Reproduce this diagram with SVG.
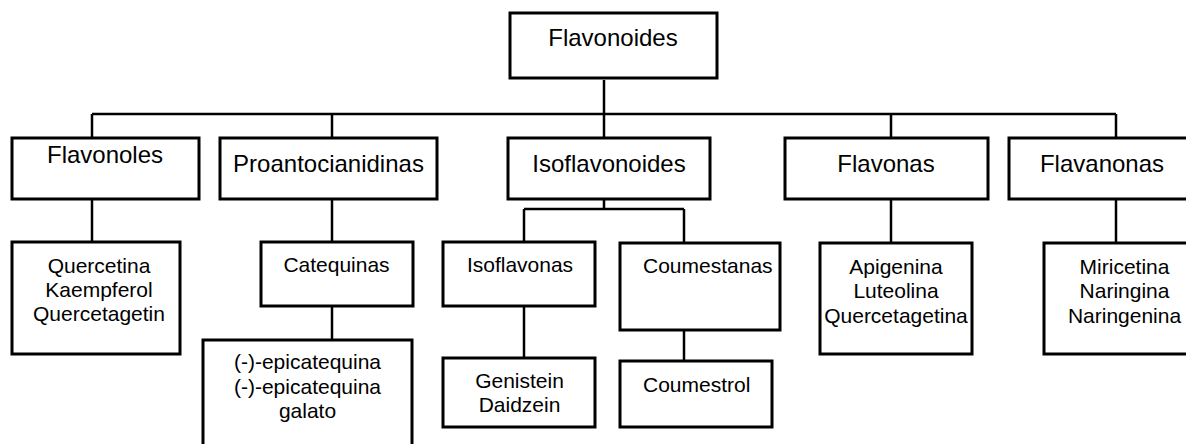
<svg xmlns="http://www.w3.org/2000/svg" width="1186" height="444" viewBox="0 0 1186 444">
<style>
.box{fill:#fff;stroke:#000;stroke-width:3}
.ln{fill:none;stroke:#000;stroke-width:2.5}
.t1{font-family:"Liberation Sans",Arial,sans-serif;font-size:24px;fill:#000;text-anchor:middle}
.t2{font-family:"Liberation Sans",Arial,sans-serif;font-size:21px;fill:#000;text-anchor:middle}
.tl{text-anchor:start}
</style>
<rect width="1186" height="444" fill="#fff"/>
<g id="connectors" class="ln">
<path d="M604 80V138"/>
<path d="M92 114H1116"/>
<path d="M92 114V138M332 114V138M891 114V138M1116 114V138"/>
<path d="M92 199V242"/>
<path d="M332 199V242"/>
<path d="M332 306V340"/>
<path d="M604 199V209M524 209H684M524 209V242M684 209V243"/>
<path d="M524 306V358"/>
<path d="M684 330V361"/>
<path d="M891 199V243"/>
<path d="M1116 199V243"/>
</g>
<g id="flavonoides"><rect class="box" x="510" y="13" width="207" height="65"/><text class="t1" x="613" y="46">Flavonoides</text></g>
<g id="flavonoles"><rect class="box" x="12" y="138" width="187" height="61"/><text class="t1" x="105" y="163">Flavonoles</text></g>
<g id="proantocianidinas"><rect class="box" x="220" y="138" width="217" height="61"/><text class="t1" x="328.5" y="171.5">Proantocianidinas</text></g>
<g id="isoflavonoides"><rect class="box" x="508" y="138" width="202" height="61"/><text class="t1" x="609" y="171.5">Isoflavonoides</text></g>
<g id="flavonas"><rect class="box" x="785" y="138" width="203" height="61"/><text class="t1" x="886" y="171.5">Flavonas</text></g>
<g id="flavanonas"><rect class="box" x="1009" y="138" width="186" height="61"/><text class="t1" x="1102" y="171.5">Flavanonas</text></g>
<g id="quercetina"><rect class="box" x="12" y="242" width="168" height="112"/><text class="t2" x="99" y="272.5">Quercetina</text><text class="t2" x="99" y="296.5">Kaempferol</text><text class="t2" x="99" y="321">Quercetagetin</text></g>
<g id="catequinas"><rect class="box" x="261" y="242" width="152" height="64"/><text class="t2" x="336.5" y="272">Catequinas</text></g>
<g id="epicatequina"><rect class="box" x="203" y="340" width="209" height="120"/><text class="t2" x="307.5" y="369">(-)-epicatequina</text><text class="t2" x="307.5" y="393.5">(-)-epicatequina</text><text class="t2" x="307.5" y="417.5">galato</text></g>
<g id="isoflavonas"><rect class="box" x="443" y="242" width="152" height="64"/><text class="t2" x="520" y="272">Isoflavonas</text></g>
<g id="genistein"><rect class="box" x="443" y="358" width="152" height="69"/><text class="t2" x="519.5" y="388">Genistein</text><text class="t2" x="519.5" y="411.5">Daidzein</text></g>
<g id="coumestanas"><rect class="box" x="620" y="243" width="160" height="87"/><text class="t2 tl" x="643" y="273">Coumestanas</text></g>
<g id="coumestrol"><rect class="box" x="620" y="361" width="152" height="66"/><text class="t2 tl" x="643" y="392">Coumestrol</text></g>
<g id="apigenina"><rect class="box" x="820" y="243" width="152" height="111"/><text class="t2" x="896" y="274">Apigenina</text><text class="t2" x="896" y="298">Luteolina</text><text class="t2" x="896" y="322.5">Quercetagetina</text></g>
<g id="miricetina"><rect class="box" x="1044" y="243" width="161" height="111"/><text class="t2" x="1124.5" y="274">Miricetina</text><text class="t2" x="1124.5" y="298">Naringina</text><text class="t2" x="1124.5" y="322.5">Naringenina</text></g>
</svg>
